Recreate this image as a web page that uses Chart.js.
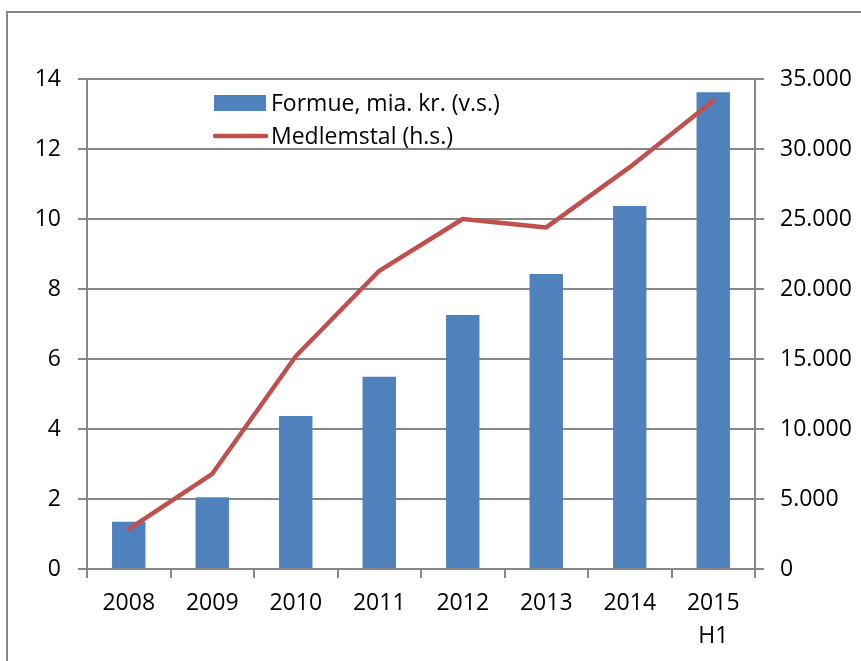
<!DOCTYPE html>
<html>
<head>
<meta charset="utf-8">
<script src="https://cdn.jsdelivr.net/npm/chart.js@4"></script>
<style>
  html, body { margin: 0; padding: 0; background: #fff; }
</style>
</head>
<body>
<canvas id="myChart" width="861" height="661"></canvas>
<script>
var years = ['2008', '2009', '2010', '2011', '2012', '2013', '2014', ['2015', 'H1']];
var formue = [1.35, 2.05, 4.37, 5.49, 7.26, 8.43, 10.37, 13.62];
var medlemstal = [2850, 6800, 15200, 21300, 25000, 24400, 28700, 33450];
var formueLabel = 'Formue, mia. kr. (v.s.)';
var medlemLabel = 'Medlemstal (h.s.)';

var blue = '#4F81BD';
var red = '#C0504D';
var gray = '#878787';
var font = { family: 'Open Sans', size: 23, lineHeight: 1.43 };

// thousands with a dot, like 35.000
function dot(v) {
    return String(v).replace(/\B(?=(\d{3})+(?!\d))/g, '.');
}

// grey frame on left and top, and the legend inside the plot
var extras = {
    id: 'extras',
    beforeDraw: function(chart) {
        var c = chart.ctx;
        c.save();
        c.strokeStyle = gray;
        c.lineWidth = 2;
        c.beginPath();
        c.moveTo(7, 661);
        c.lineTo(7, 12);
        c.lineTo(861, 12);
        c.stroke();
        c.restore();
    },
    afterDraw: function(chart) {
        var c = chart.ctx;
        c.save();
        c.fillStyle = blue;
        c.fillRect(214, 95, 52, 16);
        c.strokeStyle = red;
        c.lineWidth = 4.5;
        c.lineCap = 'round';
        c.beginPath();
        c.moveTo(215, 136);
        c.lineTo(266, 136);
        c.stroke();
        c.fillStyle = '#000';
        c.font = '23px "Open Sans"';
        c.textBaseline = 'middle';
        c.fillText(chart.data.datasets[0].label, 271, 104);
        c.fillText(chart.data.datasets[1].label, 271, 137);
        c.restore();
    }
};

var ctx = document.getElementById('myChart').getContext('2d');
var chart = new Chart(ctx, {
    type: 'bar',
    data: {
        labels: years,
        datasets: [{
            type: 'bar',
            label: formueLabel,
            data: formue,
            backgroundColor: blue,
            categoryPercentage: 0.8,
            barPercentage: 0.5,
            yAxisID: 'y',
            order: 2
        },
        {
            type: 'line',
            label: medlemLabel,
            data: medlemstal,
            borderColor: red,
            backgroundColor: red,
            borderWidth: 4.5,
            borderCapStyle: 'round',
            borderJoinStyle: 'round',
            pointRadius: 0,
            tension: 0,
            yAxisID: 'y2',
            order: 1
        }]
    },
    options: {
        responsive: false,
        animation: false,
        layout: { padding: { top: 79, left: 0, right: 0, bottom: 0 } },
        plugins: {
            legend: { display: false },
            tooltip: { enabled: false }
        },
        scales: {
            x: {
                offset: true,
                grid: {
                    offset: true,
                    drawOnChartArea: false,
                    drawTicks: true,
                    tickLength: 9,
                    color: gray,
                    lineWidth: 2
                },
                border: { color: gray, width: 2 },
                ticks: { color: '#000', font: font, padding: 9, maxRotation: 0, autoSkip: false },
                afterFit: function(s) { s.height = 92; }
            },
            y: {
                position: 'left',
                min: 0,
                max: 14,
                grid: { color: gray, lineWidth: 2, tickLength: 9 },
                border: { color: gray, width: 2 },
                ticks: { stepSize: 2, color: '#000', font: font, padding: 17 },
                afterFit: function(s) { s.width = 87; }
            },
            y2: {
                position: 'right',
                min: 0,
                max: 35000,
                grid: { drawOnChartArea: false, color: gray, lineWidth: 2, tickLength: 9 },
                border: { color: gray, width: 2 },
                ticks: { stepSize: 5000, color: '#000', font: font, padding: 16, callback: function(v) { return dot(v); } },
                afterFit: function(s) { s.width = 106; }
            }
        }
    },
    plugins: [extras]
});
</script>
</body>
</html>
